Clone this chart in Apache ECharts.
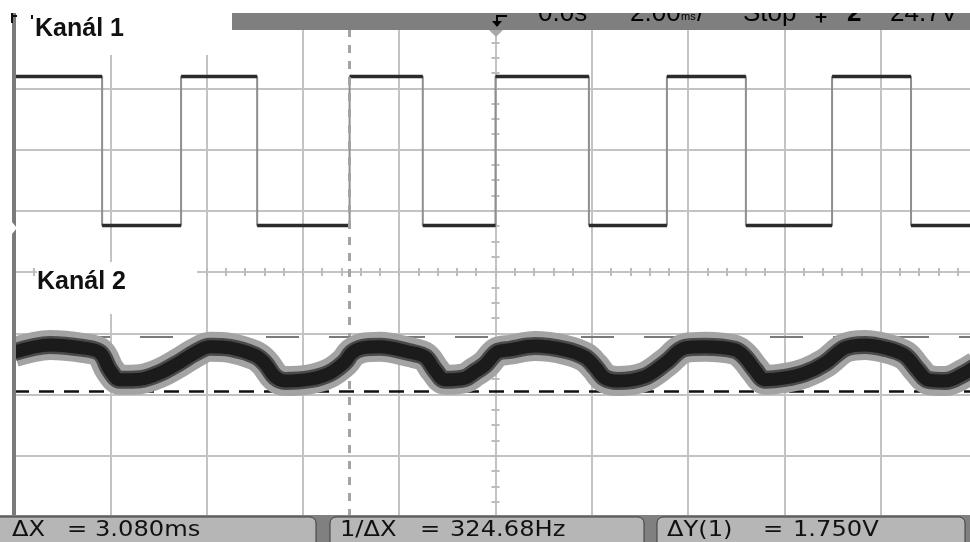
<!DOCTYPE html>
<html><head><meta charset="utf-8">
<script src="https://cdn.jsdelivr.net/npm/echarts@6/dist/echarts.min.js"></script>
<style>html,body{margin:0;padding:0;background:#fff;}#c{width:970px;height:542px;}</style>
</head><body><div id="c"></div>
<script>
// Horizontal: time in ms (2 ms/div, trigger at 0). Vertical: screen divisions.
const timeRange = [-10, 10];
const divRange = [-4, 4];
const timePerDiv = 2;
const ticksPerDivX = 5;
const ticksPerDivY = 4;

// Channel 1: square wave edges (ms) and levels (div)
const ch1Edges = [-8.17, -6.53, -4.95, -3.03, -1.51, 0.0, 1.94, 3.56, 5.20, 6.99, 8.63];
const ch1Levels = [3.19, 0.76];   // high, low
const ch1StartsHigh = true;

// Channel 2: centre of the noisy trace
const ch2Time  = [-10.0, -9.25, -8.57, -8.21, -8.01, -7.80, -7.38, -6.97, -6.55, -6.24, -5.93, -5.51, -5.00, -4.79, -4.58, -4.37, -3.85, -3.44, -3.13, -2.98, -2.77, -2.40, -1.78, -1.46, -1.26, -1.05, -0.63, -0.43, -0.22, 0.03, 0.30, 0.82, 1.44, 1.86, 2.07, 2.27, 2.54, 3.10, 3.52, 3.94, 4.35, 4.97, 5.18, 5.39, 5.60, 6.01, 6.43, 6.84, 7.26, 7.67, 8.09, 8.50, 8.77, 8.98, 9.34, 9.75, 10.0];
const ch2Value = [-1.31, -1.19, -1.24, -1.32, -1.60, -1.76, -1.75, -1.65, -1.47, -1.32, -1.22, -1.24, -1.36, -1.49, -1.71, -1.78, -1.75, -1.65, -1.47, -1.32, -1.24, -1.22, -1.31, -1.39, -1.60, -1.76, -1.73, -1.63, -1.52, -1.31, -1.27, -1.21, -1.27, -1.39, -1.55, -1.73, -1.78, -1.71, -1.49, -1.24, -1.22, -1.27, -1.39, -1.60, -1.76, -1.73, -1.65, -1.49, -1.24, -1.19, -1.24, -1.36, -1.60, -1.76, -1.78, -1.65, -1.53];

// Cursors
const cursorX = [-3.03];
const cursorY = [-1.05, -1.95];

// Texts
const channelLabels = ['Kanál 1', 'Kanál 2'];
const statusTexts = ['0.0s', '2.00', 'ms', '/', 'Stop', '‡', '2', '24.7V'];
const readoutNames = ['ΔX', '1/ΔX', 'ΔY(1)'];
const readoutValues = ['3.080ms', '324.68Hz', '1.750V'];

// ---- layout ----
const G = {left: 14, top: 27, width: 963, height: 490};

// build channel 1 traces
const lvl = h => h ? ch1Levels[0] : ch1Levels[1];
let high = ch1StartsHigh;
let prev = timeRange[0];
const ch1Step = [[timeRange[0], lvl(high)]];
const ch1Flat = [];
ch1Edges.forEach(e => {
  ch1Step.push([e, lvl(high)]);
  ch1Flat.push([prev, lvl(high)], [e, lvl(high)], [e, '-']);
  high = !high;
  ch1Step.push([e, lvl(high)]);
  prev = e;
});
ch1Step.push([timeRange[1], lvl(high)]);
ch1Flat.push([prev, lvl(high)], [timeRange[1], lvl(high)]);

const ch2Data = ch2Time.map((t, i) => [t, ch2Value[i]]);

const gridColor = '#c3c3c3';
function tickAxis(dim, pos, off, interval) {
  const base = {
    type: 'value', position: pos, offset: off,
    axisLine: {show: false, onZero: false},
    axisTick: {show: true, length: 4, lineStyle: {color: '#bcbcbc', width: 2}},
    axisLabel: {show: false}, splitLine: {show: false}, interval: interval
  };
  if (dim === 'x') { base.min = timeRange[0]; base.max = timeRange[1]; }
  else { base.min = divRange[0]; base.max = divRange[1]; }
  return base;
}

const band = (w, c, z) => ({
  type: 'line', data: ch2Data, smooth: 0.35, showSymbol: false, z: z,
  lineStyle: {color: c, width: w, cap: 'butt', join: 'round'}, silent: true
});

const txt = (x, y, text, font, fill, extra) => Object.assign({
  type: 'text', x: x, y: y, z: 60,
  style: {text: text, font: font, fill: fill, textAlign: 'left', verticalAlign: 'middle', textVerticalAlign: 'middle'}
}, extra || {});

const rfont = '21px "DejaVu Sans"';
const sfont = '26px "Liberation Sans"';
const graphics = [
  // left margin + channel strip
  {type: 'rect', z: 54, shape: {x: 0, y: 0, width: 12, height: 515}, style: {fill: '#ffffff'}},
  {type: 'rect', z: 55, shape: {x: 12, y: 13, width: 4, height: 502}, style: {fill: '#7a7a7a'}},
  {type: 'polygon', z: 56, shape: {points: [[12, 222], [17, 228], [12, 234]]}, style: {fill: '#ffffff'}},
  {type: 'rect', z: 57, shape: {x: 11, y: 13, width: 2, height: 10}, style: {fill: '#111'}},
  {type: 'rect', z: 57, shape: {x: 13, y: 15, width: 4, height: 2}, style: {fill: '#111'}},
  {type: 'rect', z: 57, shape: {x: 31, y: 15, width: 2, height: 4}, style: {fill: '#111'}},
  // label boxes
  {type: 'rect', z: 54, shape: {x: 16, y: 13, width: 216, height: 42}, style: {fill: '#ffffff'}},
  {type: 'rect', z: 54, shape: {x: 37, y: 262, width: 160, height: 52}, style: {fill: '#ffffff'}},
  txt(35, 29.3, channelLabels[0], 'bold 25px "Liberation Sans"', '#111'),
  txt(37, 282.3, channelLabels[1], 'bold 25px "Liberation Sans"', '#111'),
  // top status bar
  {type: 'rect', z: 55, shape: {x: 232, y: 13, width: 740, height: 17}, style: {fill: '#7f7f7f'}},
  txt(538, 14, statusTexts[0], sfont, '#000'),
  txt(630, 14, statusTexts[1], sfont, '#000'),
  txt(681, 17, statusTexts[2], '11px "Liberation Sans"', '#000'),
  txt(697, 14, statusTexts[3], sfont, '#000'),
  txt(743, 14, statusTexts[4], sfont, '#000'),
  txt(815, 14, statusTexts[5], '24px "DejaVu Sans"', '#000'),
  txt(847, 14, statusTexts[6], 'bold 26px "Liberation Sans"', '#000'),
  txt(890, 14, statusTexts[7], sfont, '#000'),
  {type: 'rect', z: 70, shape: {x: 0, y: 0, width: 970, height: 13}, style: {fill: '#ffffff'}},
  // trigger marker
  {type: 'polyline', z: 61, shape: {points: [[507, 16], [497, 16], [497, 22]]}, style: {stroke: '#000', lineWidth: 2, fill: null}},
  {type: 'polygon', z: 61, shape: {points: [[492, 21], [502, 21], [497, 27]]}, style: {fill: '#000'}},
  {type: 'polygon', z: 61, shape: {points: [[489, 30], [503, 30], [496, 37]]}, style: {fill: '#a9a9a9'}},
  // bottom readout bar
  {type: 'rect', z: 55, shape: {x: 0, y: 515, width: 970, height: 27}, style: {fill: '#808080'}},
  {type: 'rect', z: 56, shape: {x: -10, y: 517, width: 326, height: 32, r: 6}, style: {fill: '#b6b6b6', stroke: '#3c3c3c', lineWidth: 1}},
  {type: 'rect', z: 56, shape: {x: 330, y: 517, width: 314, height: 32, r: 6}, style: {fill: '#b6b6b6', stroke: '#3c3c3c', lineWidth: 1}},
  {type: 'rect', z: 56, shape: {x: 657, y: 517, width: 308, height: 32, r: 6}, style: {fill: '#b6b6b6', stroke: '#3c3c3c', lineWidth: 1}},
  txt(12, 530.5, readoutNames[0], rfont, '#111', {scaleX: 1.15}),
  txt(67, 530.5, '=', rfont, '#111', {scaleX: 1.15}),
  txt(95, 530.5, readoutValues[0], rfont, '#111', {scaleX: 1.15}),
  txt(340, 530.5, readoutNames[1], rfont, '#111', {scaleX: 1.15}),
  txt(420, 530.5, '=', rfont, '#111', {scaleX: 1.15}),
  txt(450, 530.5, readoutValues[1], rfont, '#111', {scaleX: 1.15}),
  txt(667, 530.5, readoutNames[2], rfont, '#111', {scaleX: 1.15}),
  txt(763, 530.5, '=', rfont, '#111', {scaleX: 1.15}),
  txt(793, 530.5, readoutValues[2], rfont, '#111', {scaleX: 1.15})
];

const option = {
  animation: false,
  backgroundColor: '#ffffff',
  grid: Object.assign({containLabel: false, outerBoundsMode: 'none'}, G),
  xAxis: [
    {type: 'value', min: timeRange[0], max: timeRange[1], interval: timePerDiv,
     axisLine: {show: false}, axisTick: {show: false}, axisLabel: {show: false},
     splitLine: {show: true, lineStyle: {color: gridColor, width: 2}}},
    tickAxis('x', 'bottom', -G.height / 2, timePerDiv / ticksPerDivX),
    tickAxis('x', 'top', -G.height / 2, timePerDiv / ticksPerDivX)
  ],
  yAxis: [
    {type: 'value', min: divRange[0], max: divRange[1], interval: 1,
     axisLine: {show: false}, axisTick: {show: false}, axisLabel: {show: false},
     splitLine: {show: true, lineStyle: {color: gridColor, width: 2}}},
    tickAxis('y', 'left', -G.width / 2, 1 / ticksPerDivY),
    tickAxis('y', 'right', -G.width / 2, 1 / ticksPerDivY)
  ],
  series: [
    {type: 'line', data: ch1Step, showSymbol: false, z: 3, silent: true,
     lineStyle: {color: '#8e8e8e', width: 2}},
    {type: 'line', data: ch1Flat, showSymbol: false, z: 4, silent: true, connectNulls: false,
     lineStyle: {color: '#2b2b2b', width: 3.5}},
    band(30, '#a3a3a3', 5),
    band(18, '#4a4a4a', 6),
    Object.assign(band(13, '#1b1b1b', 7), {
      markLine: {
        silent: true, symbol: ['none', 'none'], label: {show: false}, animation: false,
        data: [
          {xAxis: cursorX[0], lineStyle: {type: [8, 8], color: '#a3a3a3', width: 3}},
          {yAxis: cursorY[0], lineStyle: {type: [33, 30], color: '#7a7a7a', width: 2}},
          {yAxis: cursorY[1], lineStyle: {type: [15, 10], color: '#111111', width: 2.5}}
        ]
      }
    })
  ],
  graphic: {elements: graphics}
};

const chart = echarts.init(document.getElementById('c'), null, {renderer: 'canvas'});
chart.setOption(option);
</script>
</body></html>
